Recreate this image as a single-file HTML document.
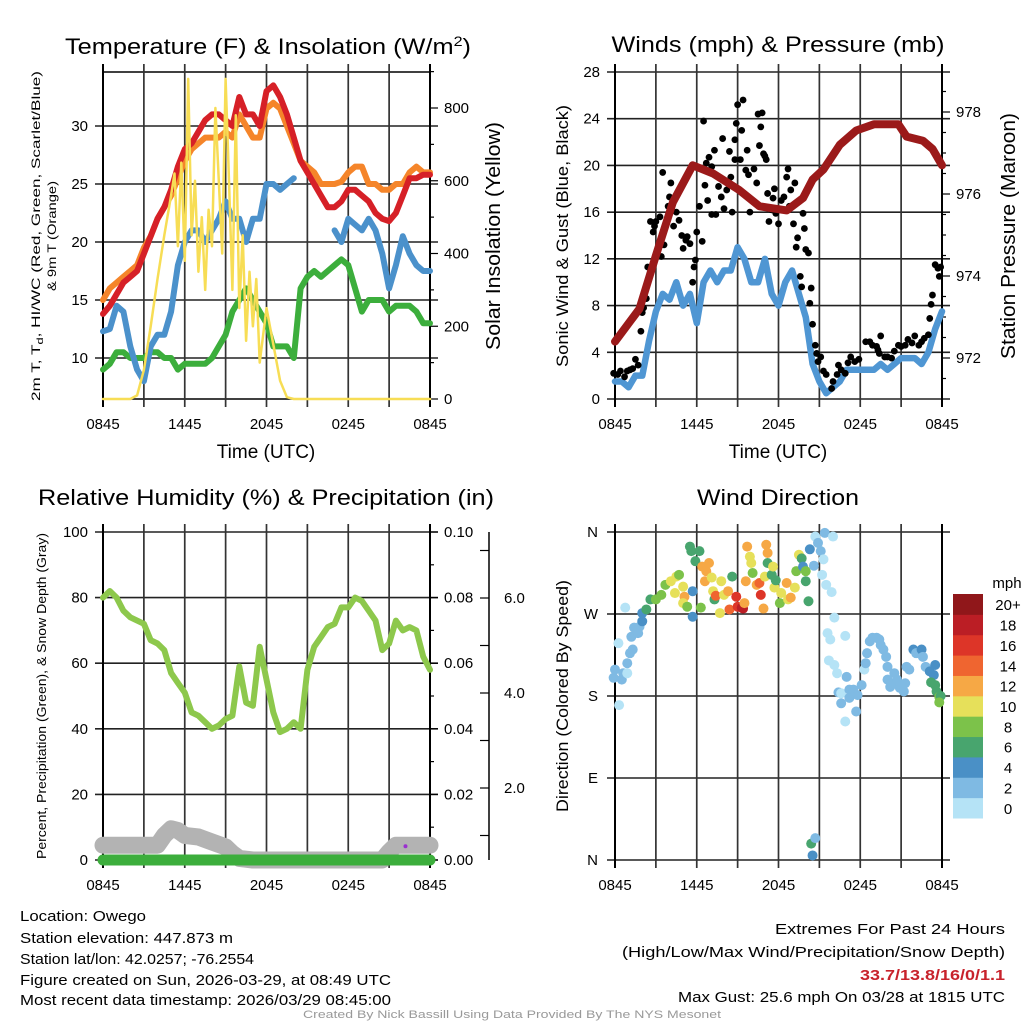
<!DOCTYPE html>
<html><head><meta charset="utf-8"><style>
html,body{margin:0;padding:0;background:#fff;}
svg{display:block;font-family:"Liberation Sans",sans-serif;}
</style></head><body>
<svg id="root" width="1024" height="1024" viewBox="0 0 1024 1024" xmlns="http://www.w3.org/2000/svg">
<g id="g1"></g>
<g id="g2"></g>
<g id="g3"></g>
<g id="g4"></g>
<text x="268" y="54" font-size="22" text-anchor="middle" textLength="406" lengthAdjust="spacingAndGlyphs">Temperature (F) &amp; Insolation (W/m<tspan dy="-8" font-size="14">2</tspan><tspan dy="8">)</tspan></text>
<text x="778" y="52" font-size="22" text-anchor="middle" textLength="333" lengthAdjust="spacingAndGlyphs">Winds (mph) &amp; Pressure (mb)</text>
<text x="266" y="505" font-size="22" text-anchor="middle" textLength="456" lengthAdjust="spacingAndGlyphs">Relative Humidity (%) &amp; Precipitation (in)</text>
<text x="778" y="505" font-size="22" text-anchor="middle" textLength="162" lengthAdjust="spacingAndGlyphs">Wind Direction</text>

<text x="20" y="921" font-size="15" textLength="126" lengthAdjust="spacingAndGlyphs">Location: Owego</text>
<text x="20" y="943" font-size="15" textLength="213" lengthAdjust="spacingAndGlyphs">Station elevation: 447.873 m</text>
<text x="20" y="964" font-size="15" textLength="234" lengthAdjust="spacingAndGlyphs">Station lat/lon: 42.0257; -76.2554</text>
<text x="20" y="985" font-size="15" textLength="371" lengthAdjust="spacingAndGlyphs">Figure created on Sun, 2026-03-29, at 08:49 UTC</text>
<text x="20" y="1005" font-size="15" textLength="371" lengthAdjust="spacingAndGlyphs">Most recent data timestamp: 2026/03/29 08:45:00</text>
<text x="1005" y="934" font-size="15" text-anchor="end" textLength="230" lengthAdjust="spacingAndGlyphs">Extremes For Past 24 Hours</text>
<text x="1005" y="957" font-size="15" text-anchor="end" textLength="383" lengthAdjust="spacingAndGlyphs">(High/Low/Max Wind/Precipitation/Snow Depth)</text>
<text x="1005" y="980" font-size="15" font-weight="bold" fill="#c8232c" text-anchor="end" textLength="145" lengthAdjust="spacingAndGlyphs">33.7/13.8/16/0/1.1</text>
<text x="1005" y="1002" font-size="15" text-anchor="end" textLength="327" lengthAdjust="spacingAndGlyphs">Max Gust: 25.6 mph On 03/28 at 1815 UTC</text>
<text x="512" y="1018" font-size="11" fill="#999" text-anchor="middle" textLength="418" lengthAdjust="spacingAndGlyphs">Created By Nick Bassill Using Data Provided By The NYS Mesonet</text>
</svg>
<script>
// ---------- DATA ----------
const timeLabels = ["0845","1445","2045","0245","0845"];
const tHalf = [0,0.5,1,1.5,2,2.5,3,3.5,4,4.5,5,5.5,6,6.5,7,7.5,8,8.5,9,9.5,10,10.5,11,11.5,12,12.5,13,13.5,14,14.5,15,15.5,16,16.5,17,17.5,18,18.5,19,19.5,20,20.5,21,21.5,22,22.5,23,23.5,24];
const tempRed = [13.8,14.5,15.5,16.5,17,17.5,19,20.5,22,23,24.5,26.5,28,28.5,29.5,30.5,31,31,30.5,30,32.5,31,31,30,33,33.5,32.5,31,29,27,26,25,24,23,23,23.5,24.5,24.5,24,23.5,22.5,22,21.8,22.5,24,25.5,25.5,25.8,25.8];
const tempOrange = [15,16,16.5,17,17.5,18,19.5,20.5,22,23,24,25.5,27,28,28.5,29,29,29,29.5,29,31,30,29,29,31.5,32,31.5,30,28.5,27,26.5,26,25,25,25,25.2,26,26.5,26.5,25,25,24.5,24.5,25,25,26,26.5,26,26];
const tempBlue = [12.3,12.5,14.5,14,11,9,8,11,12,12,14,18,20,21,21,20,21,22,23.5,22,22,20,22,22,25,25,24.5,25,25.5,null,null,null,null,null,21,20,22,21.5,21,22,21,19,16,18,20.5,19,18,17.5,17.5];
const tempGreen = [9,9.5,10.5,10.5,10,10,10,10.5,10.5,10,10,9,9.5,9.5,9.5,9.5,10,11,12,14,15,16,15,14,13,11,11,11,10,16,17,17.5,17,17.5,18,18.5,18,16,14,15,15,15,14,14.5,14.5,14.5,14,13,13];
const solarT = [0,2,2.5,3,3.5,4,4.5,5,5.25,5.5,5.75,6,6.25,6.5,6.75,7,7.25,7.5,7.75,8,8.25,8.5,8.75,9,9.25,9.5,9.75,10,10.25,10.5,10.75,11,11.25,11.5,12,12.5,13,13.5,14,24];
const solarV = [0,0,10,80,200,330,450,560,620,420,650,380,880,450,600,350,500,300,520,420,800,600,400,880,600,300,780,250,450,160,350,200,330,100,250,150,50,5,0,0];
const windBlue = [1.5,1.5,1,2,2,5,7.5,9,8.5,10,8,9,6.5,10,11,10,11,11,13,12,10,10,12,9,8,10,11,9,7,3,1.5,0.5,1,1.5,2.5,2.5,2.5,2.5,2.5,3,2.5,3,3.5,3.5,3.5,3,4,6,7.5];
const presT = [0,1.8,3,4.25,5.7,7.2,9.1,10.6,12.6,13.8,14.5,15.3,16.5,17.7,19,20.8,21.4,22.6,23.3,24];
const presV = [972.4,973.2,974.5,975.8,976.7,976.5,976.1,975.7,975.6,975.9,976.35,976.6,977.2,977.55,977.7,977.7,977.4,977.3,977.1,976.7];
const gustT = [-0.1,0.2,0.4,0.7,0.9,1.1,1.3,1.5,1.7,1.9,2.0,2.1,2.3,2.4,2.6,2.8,2.9,3.0,3.3,3.5,3.4,3.6,3.9,4.0,4.1,4.3,4.5,4.7,4.9,5.0,5.2,5.3,5.5,5.7,5.8,5.9,6.0,6.2,6.4,6.5,6.6,6.7,6.8,6.9,7.1,7.1,7.3,7.4,7.6,7.8,7.9,8.0,8.2,8.4,8.5,8.6,8.8,8.8,8.9,9.0,9.2,9.3,9.4,9.6,9.7,9.8,9.9,10.2,10.4,10.5,10.6,10.7,10.8,10.9,11.0,11.1,11.2,11.3,11.5,11.6,11.7,11.8,12.0,12.2,12.4,12.6,12.7,12.8,12.9,13.1,13.2,13.3,13.4,13.6,13.7,13.8,13.9,14.0,14.2,14.3,14.4,14.5,14.7,14.8,14.9,15.1,15.3,15.5,15.9,16.0,16.3,16.4,16.6,16.9,17.1,17.3,17.6,17.9,18.4,18.7,18.9,19.2,19.3,19.4,19.5,19.8,20.0,20.3,20.5,20.8,21.0,21.3,21.5,21.8,22.0,22.3,22.5,22.7,23.0,23.1,23.2,23.3,23.5,23.7,23.8,23.9];
const gustV = [2.2,2.1,2.4,1.9,2.4,2.5,2.6,3.4,2.9,5.8,7.4,7.8,8.6,11.3,15.2,14.3,14.8,15.2,15.6,19.4,12.2,13.2,16.5,17.3,18.5,14.8,16,15.3,14,12.9,13.6,13.9,13.3,10,11.3,11.9,14.3,16.5,13.5,23.8,18.3,20.2,17,20.7,15.8,19.9,21.3,15.8,18.2,17.3,22.3,16.3,17.9,21.2,19,16,20.5,22.2,23.6,25.2,20.5,23,25.6,19.6,21.3,19.2,16,19.7,18.5,24.4,21.7,23.3,24.5,21,20.8,20.5,17.6,15.2,16.2,17.2,18,15.9,15,17,17.3,19,19.7,16.5,17.9,15,18.5,13,13.8,10.5,9.6,15.9,14.6,12.8,12.5,8.2,9.5,6.4,4.6,3.9,3.2,3.6,2.4,2.1,0.9,1.5,2.1,2.9,2.5,2.2,3.1,3.6,3.2,3.4,4.9,4.9,4.6,4.5,4.2,3.9,5.4,3.6,3.6,3.5,4.1,4.6,4.5,4.6,5.1,4.8,5.4,4.6,4.9,5.2,5.5,6.9,8.1,8.9,11.5,11.2,10.5,11.3];
const rhV = [80,82,80,76,74,73,72,67,66,64,57,54,51,45,44,42,40,41,43,44,59,48,47,65,55,45,39,40,42,40,58,65,68,71,72,77,77,80,79,76,73,64,66,73,70,71,70,62,58];
const snowT = [0,4,4.5,5,5.5,6,7,8,9,9.5,10,11,15,20.5,21,21.5,22,24];
const snowV = [4.5,4.5,7.5,9.5,9,7.5,7,5.5,4,2,0.5,0,0,0,2.5,4.5,4.5,4.5];
const precipT = [0,24];
const precipV = [0,0];
const dirT = [-0.1,0,0.3,0.6,0.5,0.9,0.9,1.1,1.3,0.25,0.75,1.2,1.4,1.8,1.7,2.0,2.0,2.3,2.6,3.0,3.4,3.7,4.1,4.5,4.7,4.4,5.0,5.1,5.0,5.3,5.5,5.6,5.7,5.7,5.9,6.2,6.3,6.4,6.6,6.7,6.9,7.1,7.2,7.3,7.4,7.7,7.8,8.0,8.3,8.4,8.6,8.9,9.0,9.3,9.4,9.5,9.6,9.7,9.9,10.0,10.1,10.4,10.6,10.7,10.9,11.0,11.1,11.2,11.2,11.5,11.6,11.7,11.8,12.1,12.2,12.6,12.7,12.9,13.2,13.3,13.5,13.7,13.8,14.0,14.0,14.2,14.3,14.6,14.4,14.5,14.7,14.7,14.9,15.1,15.3,15.4,15.2,15.5,15.9,16.0,16.1,15.6,15.8,15.7,16.1,16.3,16.4,16.6,16.6,16.9,16.9,17.0,17.2,17.2,17.5,17.7,17.8,18.1,18.3,18.4,18.5,18.7,18.9,19.2,19.4,19.5,19.7,19.9,20.0,20.0,20.2,20.3,20.5,20.7,20.9,21.2,21.3,21.4,21.6,21.9,22.1,22.5,22.6,22.8,23.1,23.4,23.5,23.2,23.5,23.6,23.8,23.9,23.8];
const dirV = [200,209,170,205,198,205,216,227,231,238,277,245,255,256,249,262,271,275,286,286,291,302,306,311,313,293,300,289,282,278,344,339,295,267,328,339,277,322,306,317,326,310,295,286,290,271,306,291,295,275,311,289,278,277,276,282,306,344,333,326,315,302,304,291,276,311,346,337,326,313,322,299,307,282,293,304,286,288,299,317,335,331,322,317,306,284,341,323,18,5,24,355,348,339,330,359,313,302,294,355,266,249,242,219,214,205,184,183,172,152,246,201,187,178,187,163,181,192,209,216,227,240,244,244,242,236,231,223,212,198,190,194,205,198,189,185,194,212,209,231,227,231,223,212,207,203,214,195,192,185,179,180,173];
const dirSpd = [3,3,1,2,2,1,2,2,2,1,0,2,2,2,2,4,5,6,6,8,9,8,10,10,9,10,10,12,10,9,6,6,5,5,6,6,9,12,12,12,12,11,10,7,14,10,10,11,12,15,6,16,17,18,18,12,12,12,10,10,9,12,14,16,12,10,12,12,6,6,10,10,6,8,10,12,10,12,10,8,10,6,4,8,6,6,4,3,6,4,3,1,2,2,1,2,0,0,0,0,1,1,1,1,1,1,2,1,2,1,1,3,2,2,2,3,2,2,1,2,2,2,2,2,2,2,2,2,2,2,2,2,2,2,2,2,2,2,2,4,3,4,3,2,4,4,4,6,7,7,8,6,8];
const speedBinLabels = ["0","2","4","6","8","10","12","14","16","18","20+"];
const speedColors = ["#b5e3f6","#7fbae3","#4a90c6","#48a56e","#7cc24a","#e6e05a","#f6a845","#ef6530","#dd3528","#bb1e25","#90171a"];
const hours = [0,3,6,9,12,15,18,21,24];

// ---------- HELPERS ----------
const NS = "http://www.w3.org/2000/svg";
function mk(parent, tag, attrs){const e=document.createElementNS(NS,tag);for(const k in attrs)e.setAttribute(k,attrs[k]);parent.appendChild(e);return e;}
function lin(d0,d1,r0,r1){return v=>r0+(v-d0)*(r1-r0)/(d1-d0);}
function pathFrom(xs,ys,sx,sy){let d="",pen=false;for(let i=0;i<xs.length;i++){if(ys[i]===null||ys[i]===undefined){pen=false;continue;}d+=(pen?"L":"M")+sx(xs[i]).toFixed(1)+","+sy(ys[i]).toFixed(1);pen=true;}return d;}

function frame(g,X0,X1,Y0,Y1,sx){
  hours.forEach((h,i)=>{
    const x=sx(h);
    const l=mk(g,"line",{x1:x,x2:x,y1:Y0-8,y2:Y1+8,stroke:(i===0||i===8)?"#000":"#333","stroke-width":(i===0||i===8)?2:1.7});
    
    
  });
  timeLabels.forEach((s,i)=>{
    const t=mk(g,"text",{x:sx(i*6),y:Y1+30,"font-size":15,"text-anchor":"middle"});t.textContent=s;
    
    
  });
}
function hgrid(g,X0,X1,y,label,lx,anchor){
  const l=mk(g,"line",{x1:X0-8,x2:X1+8,y1:y,y2:y,stroke:"#222","stroke-width":1.6});
  
  
  if(label!==null){const t=mk(g,"text",{x:lx,y:y+5,"font-size":15,"text-anchor":anchor});t.textContent=label;
    
    }
}
function rtick(g,x,y,label,len){
  const l=mk(g,"line",{x1:x,x2:x+len,y1:y,y2:y,stroke:"#000","stroke-width":1.2});
  
  
  if(label!==null){const t=mk(g,"text",{x:x+14,y:y+5,"font-size":15});t.textContent=label;
    
    }
}
function vtitle(g,x,y,txt,fs,len){
  const t=mk(g,"text",{x:x,y:y,"font-size":fs,"text-anchor":"middle",transform:`rotate(-90 ${x} ${y})`,textLength:len,lengthAdjust:"spacingAndGlyphs"});t.textContent=txt;
  return t;
}
function line(g,xs,ys,sx,sy,color,w,name){
  const p=mk(g,"path",{d:pathFrom(xs,ys,sx,sy),fill:"none",stroke:color,"stroke-width":w,"stroke-linejoin":"round","stroke-linecap":"round"});
  
  
  return p;
}

// ---------- PANEL 1 ----------
(function(){
  const g=document.getElementById("g1");
  const X0=103,X1=430,Y0=72,Y1=399;
  const sx=lin(0,24,X0,X1), sy=lin(10,30,358,126), sr=lin(0,800,399,108);
  [10,15,20,25,30].forEach(v=>hgrid(g,X0,X1,sy(v),String(v),88,"end"));
  mk(g,"line",{x1:X0,x2:X1,y1:Y0,y2:Y0,stroke:"#000","stroke-width":1.5});
  mk(g,"line",{x1:X0,x2:X1,y1:Y1,y2:Y1,stroke:"#000","stroke-width":1.5});
  frame(g,X0,X1,Y0,Y1,sx);
  [0,100,200,300,400,500,600,700,800,900].forEach(v=>rtick(g,X1,sr(v),v%200===0?String(v):null,v%200===0?8:4));
  const a=vtitle(g,40,236,"",12,330);
  a.innerHTML='2m T, T<tspan font-size="9" dy="3">d</tspan><tspan dy="-3">, HI/WC (Red, Green, Scarlet/Blue)</tspan>';
  
  
  const b=vtitle(g,56,236,"& 9m T (Orange)",12,110);
  
  
  const c=vtitle(g,500,236,"Solar Insolation (Yellow)",20,228);
  
  
  const xt=mk(g,"text",{x:266,y:458,"font-size":19,"text-anchor":"middle"});xt.textContent="Time (UTC)";
  
  
  line(g,tHalf,tempGreen,sx,sy,"#3cae3c",6,"dewpoint-line");
  line(g,tHalf,tempBlue,sx,sy,"#4b91cb",6,"windchill-line");
  line(g,tHalf,tempOrange,sx,sy,"#f5852a",6,"temp-9m-line");
  line(g,tHalf,tempRed,sx,sy,"#d62027",6,"temp-2m-line");
  line(g,solarT,solarV,sx,sr,"#f7dd55",2.5,"solar-line");
})();

// ---------- PANEL 2 ----------
(function(){
  const g=document.getElementById("g2");
  const X0=615,X1=942,Y0=72,Y1=399;
  const sx=lin(0,24,X0,X1), sy=lin(0,28,Y1,Y0), sr=lin(972,978,358,112);
  [0,4,8,12,16,20,24,28].forEach(v=>hgrid(g,X0,X1,sy(v),String(v),600,"end"));
  frame(g,X0,X1,Y0,Y1,sx);
  [971.5,972,972.5,973,973.5,974,974.5,975,975.5,976,976.5,977,977.5,978,978.5].forEach(v=>rtick(g,X1,sr(v),v%2===0?String(v):null,v%2===0?8:4));
  const a=vtitle(g,568,236,"Sonic Wind & Gust (Blue, Black)",17,262);
  
  
  const c=vtitle(g,1015,236,"Station Pressure (Maroon)",20,246);
  
  
  const xt=mk(g,"text",{x:778,y:458,"font-size":19,"text-anchor":"middle"});xt.textContent="Time (UTC)";
  
  
  line(g,tHalf,windBlue,sx,sy,"#4f96d3",6.5,"sustained-wind-line");
  for(let i=0;i<gustT.length;i++){
    const c=mk(g,"circle",{cx:sx(gustT[i]),cy:sy(gustV[i]),r:3.4,fill:"#000"});
    
    
  }
  line(g,presT,presV,sx,sr,"#9b1a1a",8,"pressure-line");
})();

// ---------- PANEL 3 ----------
(function(){
  const g=document.getElementById("g3");
  const X0=103,X1=430,Y0=532,Y1=860;
  const sx=lin(0,24,X0,X1), sy=lin(0,100,Y1,Y0), sr=lin(0,0.1,Y1,Y0);
  [0,20,40,60,80,100].forEach(v=>hgrid(g,X0,X1,sy(v),String(v),88,"end"));
  frame(g,X0,X1,Y0,Y1,sx);
  [0,0.01,0.02,0.03,0.04,0.05,0.06,0.07,0.08,0.09,0.1].forEach((v,i)=>rtick(g,X1,sr(v),i%2===0?v.toFixed(2):null,i%2===0?8:4));
  const ax=mk(g,"line",{x1:489,x2:489,y1:532,y2:860,stroke:"#000","stroke-width":1.5});
  
  
  const ss=lin(0,6,883,598);
  [1,2,3,4,5,6,7].forEach(v=>{
    const l=mk(g,"line",{x1:480,x2:489,y1:ss(v),y2:ss(v),stroke:"#000","stroke-width":1.2});
    
    
    if(v%2===0){const t=mk(g,"text",{x:504,y:ss(v)+5,"font-size":15});t.textContent=v.toFixed(1);
      
      }
  });
  const a=vtitle(g,46,696,"Percent, Precipitation (Green), & Snow Depth (Gray)",13,326);
  
  
  line(g,snowT,snowV,sx,sy,"#b3b3b3",17,"snow-depth-line");
  line(g,precipT,precipV,sx,sr,"#3cae3c",11,"precip-line");
  line(g,tHalf,rhV,sx,sy,"#8dc84c",6,"rh-line");
  const pd=mk(g,"circle",{cx:sx(22.2),cy:sy(4.2),r:2,fill:"#9b30d0"});
  
  
})();

// ---------- PANEL 4 ----------
(function(){
  const g=document.getElementById("g4");
  const X0=615,X1=942,Y0=532,Y1=860;
  const sx=lin(0,24,X0,X1), sy=lin(0,360,Y1,Y0);
  const dl=["N","E","S","W","N"];
  [0,90,180,270,360].forEach((v,i)=>hgrid(g,X0,X1,sy(v),dl[v/90],598,"end"));
  frame(g,X0,X1,Y0,Y1,sx);
  const a=vtitle(g,568,696,"Direction (Colored By Speed)",17,232);
  
  
  for(let i=0;i<dirT.length;i++){
    const bin=Math.min(10,Math.floor(dirSpd[i]/2));
    const c=mk(g,"circle",{cx:sx(dirT[i]),cy:sy(dirV[i]),r:5,fill:speedColors[bin]});
    
    
  }
  const bh=(818-594)/11;
  speedBinLabels.forEach((lab,i)=>{
    const y=818-(i+1)*bh;
    const r=mk(g,"rect",{x:953,y:y,width:30,height:bh+0.5,fill:speedColors[i]});
    
    
    const t=mk(g,"text",{x:1008,y:y+bh/2+6,"font-size":15,"text-anchor":"middle"});t.textContent=lab;
    
    
  });
  const u=mk(g,"text",{x:1007,y:588,"font-size":15,"text-anchor":"middle"});u.textContent="mph";
  
  
})();
</script>
</body></html>
